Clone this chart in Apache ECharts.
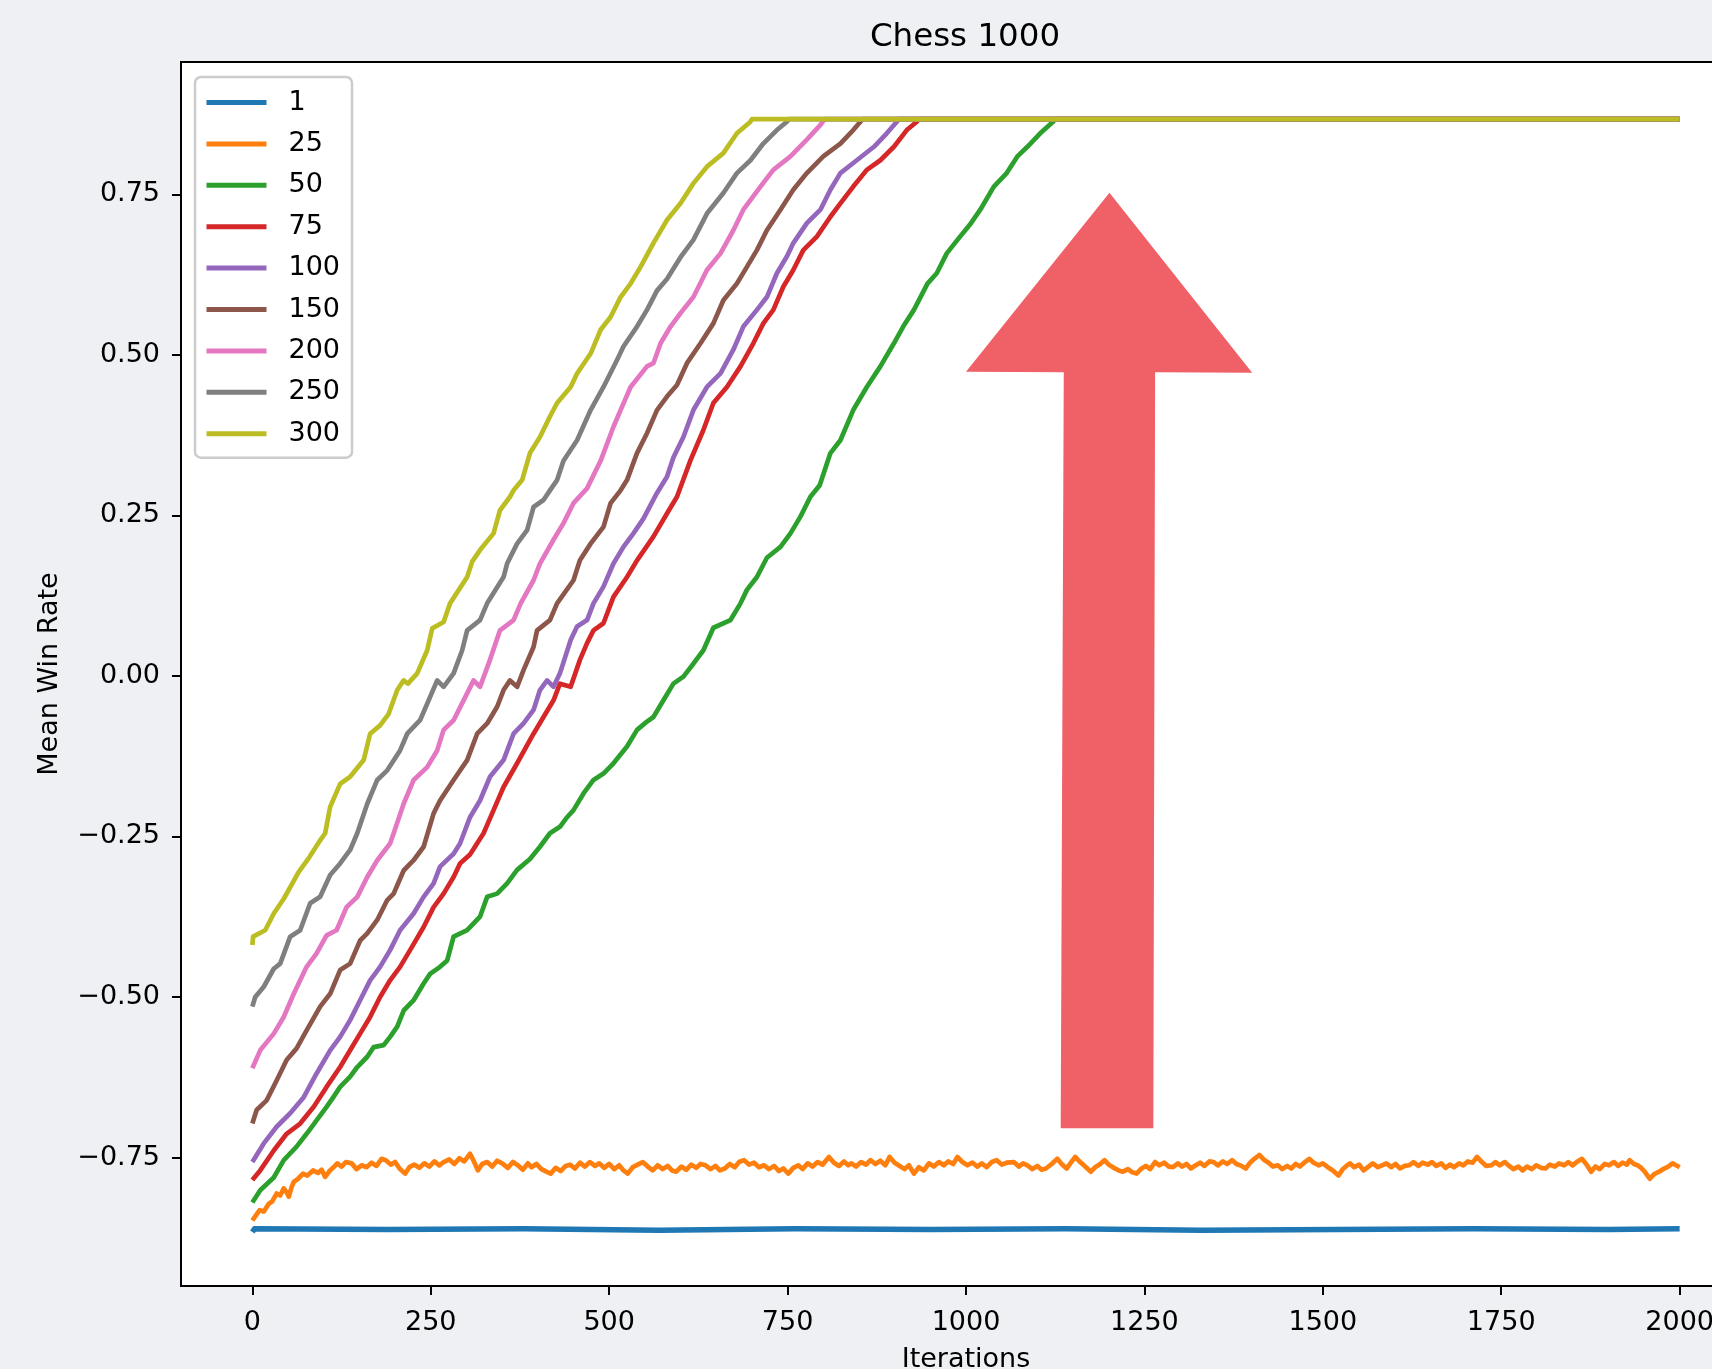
<!DOCTYPE html>
<html><head><meta charset="utf-8">
<script src="https://cdn.jsdelivr.net/npm/echarts@6/dist/echarts.min.js"></script>
<style>html,body{margin:0;padding:0;background:#eff0f4;overflow:hidden}#chart{width:1712px;height:1369px}</style>
</head><body><div id="chart"></div>
<script>
const titleText = 'Chess 1000';
const seriesNames = ['1','25','50','75','100','150','200','250','300'];
const seriesColors = ['#1f77b4','#ff7f0e','#2ca02c','#d62728','#9467bd','#8c564b','#e377c2','#7f7f7f','#bcbd22'];
const iterTicks = [0,250,500,750,1000,1250,1500,1750,2000];
const rateTicks = [-0.75,-0.5,-0.25,0,0.25,0.5,0.75];

const run1 = [[0,-0.866],[3,-0.861],[190,-0.862],[380,-0.861],[570,-0.863],[760,-0.861],[950,-0.862],[1140,-0.861],[1330,-0.863],[1520,-0.862],[1710,-0.861],[1900,-0.862],[2000,-0.861]];
const run25 = [[0,-0.848],[5,-0.840],[10,-0.832],[16,-0.834],[23,-0.822],[28,-0.818],[34,-0.806],[39,-0.809],[44,-0.798],[48,-0.804],[51,-0.811],[55,-0.796],[58,-0.788],[64,-0.783],[71,-0.775],[77,-0.778],[85,-0.770],[92,-0.774],[97,-0.769],[102,-0.780],[108,-0.771],[113,-0.766],[119,-0.759],[125,-0.764],[131,-0.757],[139,-0.759],[146,-0.768],[153,-0.762],[160,-0.765],[167,-0.758],[174,-0.763],[181,-0.752],[187,-0.754],[194,-0.761],[200,-0.757],[207,-0.768],[214,-0.775],[220,-0.765],[227,-0.761],[234,-0.766],[241,-0.759],[248,-0.764],[255,-0.756],[262,-0.762],[268,-0.757],[276,-0.753],[283,-0.760],[290,-0.751],[297,-0.756],[305,-0.744],[310,-0.755],[316,-0.770],[322,-0.760],[329,-0.757],[336,-0.764],[343,-0.755],[350,-0.759],[358,-0.766],[365,-0.757],[372,-0.762],[379,-0.769],[386,-0.759],[391,-0.765],[398,-0.760],[405,-0.768],[412,-0.772],[418,-0.775],[425,-0.766],[432,-0.771],[439,-0.763],[445,-0.761],[452,-0.767],[459,-0.758],[466,-0.764],[473,-0.757],[480,-0.763],[486,-0.759],[493,-0.766],[500,-0.760],[507,-0.768],[514,-0.762],[520,-0.770],[526,-0.775],[533,-0.765],[540,-0.761],[547,-0.757],[554,-0.764],[561,-0.770],[568,-0.762],[575,-0.768],[582,-0.763],[588,-0.770],[594,-0.772],[601,-0.764],[608,-0.769],[615,-0.761],[622,-0.766],[628,-0.760],[635,-0.762],[642,-0.768],[649,-0.763],[655,-0.770],[662,-0.767],[669,-0.760],[676,-0.765],[682,-0.757],[689,-0.754],[696,-0.761],[703,-0.758],[710,-0.765],[717,-0.762],[724,-0.768],[731,-0.763],[738,-0.771],[744,-0.767],[751,-0.775],[758,-0.766],[765,-0.762],[771,-0.768],[778,-0.759],[785,-0.764],[792,-0.757],[799,-0.761],[808,-0.749],[815,-0.758],[822,-0.763],[829,-0.756],[835,-0.762],[839,-0.759],[846,-0.764],[853,-0.757],[860,-0.761],[866,-0.754],[873,-0.760],[880,-0.755],[887,-0.762],[893,-0.749],[900,-0.758],[907,-0.763],[914,-0.768],[920,-0.762],[927,-0.775],[934,-0.765],[941,-0.770],[948,-0.759],[955,-0.764],[962,-0.757],[969,-0.762],[975,-0.756],[982,-0.760],[988,-0.749],[995,-0.757],[1002,-0.762],[1009,-0.758],[1016,-0.764],[1022,-0.759],[1029,-0.765],[1036,-0.757],[1043,-0.754],[1050,-0.761],[1057,-0.758],[1067,-0.757],[1074,-0.764],[1080,-0.759],[1086,-0.762],[1093,-0.768],[1100,-0.763],[1106,-0.769],[1112,-0.767],[1120,-0.760],[1128,-0.752],[1134,-0.760],[1141,-0.767],[1147,-0.758],[1153,-0.749],[1160,-0.757],[1167,-0.764],[1175,-0.772],[1181,-0.765],[1188,-0.760],[1194,-0.754],[1200,-0.761],[1207,-0.766],[1214,-0.770],[1220,-0.772],[1227,-0.768],[1233,-0.773],[1239,-0.775],[1246,-0.767],[1252,-0.763],[1258,-0.768],[1265,-0.757],[1271,-0.762],[1278,-0.758],[1284,-0.764],[1290,-0.765],[1297,-0.759],[1303,-0.764],[1309,-0.760],[1315,-0.767],[1322,-0.762],[1328,-0.758],[1334,-0.763],[1341,-0.756],[1347,-0.757],[1353,-0.762],[1360,-0.756],[1366,-0.760],[1373,-0.754],[1379,-0.760],[1386,-0.763],[1392,-0.767],[1398,-0.758],[1404,-0.752],[1411,-0.746],[1417,-0.753],[1424,-0.758],[1430,-0.764],[1437,-0.762],[1443,-0.768],[1450,-0.763],[1456,-0.767],[1462,-0.760],[1468,-0.764],[1475,-0.757],[1481,-0.752],[1487,-0.758],[1494,-0.762],[1500,-0.759],[1507,-0.765],[1514,-0.770],[1522,-0.778],[1528,-0.768],[1533,-0.763],[1538,-0.759],[1544,-0.765],[1551,-0.761],[1557,-0.770],[1564,-0.764],[1570,-0.759],[1577,-0.765],[1583,-0.762],[1589,-0.759],[1596,-0.765],[1602,-0.760],[1608,-0.767],[1615,-0.763],[1621,-0.762],[1627,-0.757],[1634,-0.763],[1640,-0.758],[1647,-0.761],[1653,-0.757],[1659,-0.763],[1666,-0.759],[1672,-0.766],[1678,-0.761],[1684,-0.765],[1691,-0.759],[1697,-0.762],[1703,-0.756],[1710,-0.758],[1716,-0.749],[1723,-0.757],[1729,-0.763],[1736,-0.762],[1742,-0.757],[1748,-0.762],[1755,-0.757],[1761,-0.763],[1767,-0.768],[1774,-0.764],[1780,-0.770],[1786,-0.764],[1793,-0.768],[1799,-0.762],[1806,-0.766],[1812,-0.767],[1818,-0.761],[1825,-0.764],[1831,-0.759],[1838,-0.762],[1844,-0.757],[1850,-0.762],[1857,-0.756],[1863,-0.752],[1869,-0.760],[1876,-0.772],[1882,-0.764],[1888,-0.768],[1895,-0.760],[1901,-0.762],[1908,-0.757],[1914,-0.763],[1920,-0.758],[1926,-0.761],[1930,-0.754],[1936,-0.760],[1941,-0.762],[1945,-0.765],[1951,-0.772],[1958,-0.783],[1964,-0.776],[1971,-0.772],[1977,-0.768],[1984,-0.764],[1990,-0.759],[1995,-0.762],[2000,-0.765]];
const run50 = [[0,-0.820],[11,-0.801],[30,-0.781],[44,-0.754],[62,-0.733],[76,-0.713],[90,-0.692],[104,-0.671],[114,-0.655],[123,-0.640],[137,-0.624],[147,-0.609],[161,-0.593],[170,-0.578],[184,-0.575],[193,-0.562],[203,-0.546],[212,-0.521],[226,-0.505],[240,-0.479],[249,-0.464],[263,-0.453],[273,-0.443],[282,-0.406],[301,-0.396],[319,-0.375],[329,-0.344],[343,-0.339],[357,-0.323],[371,-0.302],[389,-0.285],[403,-0.266],[417,-0.245],[431,-0.235],[441,-0.220],[450,-0.209],[464,-0.183],[478,-0.162],[492,-0.152],[506,-0.136],[525,-0.110],[539,-0.084],[552,-0.072],[562,-0.064],[576,-0.038],[590,-0.012],[604,-0.001],[618,0.019],[632,0.040],[646,0.075],[670,0.087],[684,0.113],[693,0.134],[707,0.154],[721,0.184],[740,0.201],[754,0.222],[768,0.248],[782,0.279],[795,0.297],[810,0.347],[824,0.367],[842,0.414],[861,0.450],[880,0.482],[899,0.518],[912,0.544],[927,0.570],[946,0.611],[959,0.627],[973,0.658],[988,0.679],[1007,0.705],[1020,0.726],[1039,0.762],[1057,0.783],[1072,0.809],[1086,0.824],[1104,0.845],[1122,0.863],[1125,0.867],[2000,0.867]];
const run75 = [[0,-0.785],[11,-0.770],[30,-0.739],[48,-0.713],[67,-0.697],[86,-0.671],[104,-0.640],[123,-0.609],[137,-0.583],[151,-0.557],[165,-0.531],[179,-0.500],[193,-0.474],[207,-0.453],[221,-0.427],[240,-0.391],[254,-0.360],[268,-0.339],[282,-0.313],[291,-0.292],[305,-0.278],[324,-0.245],[338,-0.209],[352,-0.173],[371,-0.136],[394,-0.090],[408,-0.064],[422,-0.038],[431,-0.012],[446,-0.017],[459,0.025],[469,0.051],[478,0.071],[492,0.082],[506,0.123],[525,0.154],[539,0.180],[562,0.217],[581,0.253],[595,0.279],[614,0.336],[632,0.383],[646,0.425],[665,0.450],[684,0.482],[702,0.518],[716,0.549],[730,0.570],[744,0.606],[758,0.632],[772,0.663],[791,0.684],[810,0.715],[824,0.736],[842,0.762],[861,0.788],[880,0.803],[899,0.824],[917,0.850],[931,0.863],[934,0.867],[2000,0.867]];
const run100 = [[0,-0.757],[16,-0.728],[34,-0.702],[53,-0.681],[72,-0.656],[90,-0.619],[109,-0.583],[123,-0.562],[137,-0.536],[151,-0.505],[165,-0.474],[179,-0.453],[193,-0.427],[207,-0.396],[226,-0.370],[240,-0.344],[254,-0.323],[263,-0.297],[282,-0.277],[291,-0.261],[305,-0.220],[319,-0.194],[333,-0.157],[352,-0.131],[366,-0.090],[380,-0.074],[394,-0.053],[403,-0.022],[413,-0.007],[422,-0.017],[431,0.004],[446,0.056],[455,0.077],[469,0.087],[478,0.113],[492,0.139],[506,0.175],[520,0.201],[534,0.222],[548,0.245],[567,0.285],[581,0.310],[590,0.340],[604,0.372],[618,0.414],[637,0.450],[656,0.471],[674,0.508],[688,0.544],[707,0.570],[721,0.590],[735,0.627],[749,0.653],[758,0.674],[777,0.705],[796,0.726],[810,0.757],[824,0.783],[847,0.803],[871,0.824],[889,0.845],[903,0.863],[906,0.867],[2000,0.867]];
const run150 = [[0,-0.697],[6,-0.676],[20,-0.661],[34,-0.630],[48,-0.598],[62,-0.580],[76,-0.552],[95,-0.515],[109,-0.495],[123,-0.458],[137,-0.448],[151,-0.412],[161,-0.401],[175,-0.380],[189,-0.349],[198,-0.339],[212,-0.303],[226,-0.287],[240,-0.266],[254,-0.214],[263,-0.194],[282,-0.162],[301,-0.131],[315,-0.090],[329,-0.074],[343,-0.048],[352,-0.022],[361,-0.007],[371,-0.017],[380,0.009],[394,0.045],[399,0.071],[417,0.087],[427,0.113],[450,0.149],[459,0.180],[474,0.206],[492,0.232],[502,0.269],[516,0.289],[525,0.305],[539,0.347],[553,0.378],[567,0.414],[581,0.435],[595,0.453],[609,0.487],[628,0.518],[646,0.549],[660,0.585],[679,0.611],[693,0.637],[707,0.663],[721,0.694],[740,0.726],[758,0.757],[777,0.783],[800,0.809],[824,0.829],[842,0.850],[852,0.863],[855,0.867],[2000,0.867]];
const run200 = [[0,-0.611],[11,-0.583],[30,-0.557],[44,-0.531],[58,-0.495],[76,-0.453],[90,-0.432],[104,-0.404],[118,-0.396],[132,-0.360],[147,-0.344],[161,-0.313],[175,-0.287],[193,-0.261],[198,-0.245],[212,-0.199],[226,-0.162],[245,-0.142],[259,-0.116],[268,-0.084],[282,-0.069],[296,-0.038],[310,-0.007],[319,-0.017],[333,0.025],[347,0.071],[366,0.087],[376,0.113],[394,0.149],[403,0.175],[422,0.212],[436,0.238],[450,0.269],[469,0.292],[488,0.335],[506,0.388],[516,0.414],[530,0.450],[553,0.482],[562,0.487],[572,0.518],[586,0.544],[600,0.565],[618,0.590],[637,0.632],[656,0.658],[674,0.694],[688,0.726],[712,0.762],[730,0.788],[754,0.809],[777,0.835],[796,0.858],[802,0.867],[2000,0.867]];
const run250 = [[0,-0.515],[4,-0.500],[16,-0.484],[30,-0.456],[39,-0.448],[53,-0.406],[67,-0.396],[81,-0.354],[95,-0.344],[109,-0.310],[123,-0.292],[137,-0.271],[147,-0.245],[161,-0.199],[175,-0.162],[189,-0.147],[207,-0.116],[217,-0.090],[235,-0.069],[247,-0.038],[259,-0.007],[268,-0.017],[282,0.004],[294,0.040],[301,0.071],[319,0.087],[329,0.113],[352,0.154],[357,0.175],[371,0.206],[385,0.227],[394,0.263],[408,0.274],[417,0.289],[427,0.305],[436,0.335],[455,0.367],[474,0.414],[492,0.450],[511,0.492],[520,0.513],[539,0.544],[553,0.570],[567,0.600],[581,0.618],[600,0.652],[618,0.679],[637,0.720],[660,0.752],[679,0.783],[698,0.803],[716,0.829],[735,0.850],[749,0.863],[752,0.867],[2000,0.867]];
const run300 = [[0,-0.419],[1,-0.406],[18,-0.396],[30,-0.370],[44,-0.347],[65,-0.305],[80,-0.282],[95,-0.256],[102,-0.245],[109,-0.204],[123,-0.168],[137,-0.157],[156,-0.131],[165,-0.090],[179,-0.077],[191,-0.059],[203,-0.022],[212,-0.007],[218,-0.012],[231,0.004],[245,0.040],[252,0.074],[268,0.084],[277,0.113],[301,0.154],[308,0.178],[319,0.196],[338,0.222],[347,0.258],[361,0.279],[366,0.289],[378,0.305],[389,0.347],[403,0.372],[417,0.404],[427,0.425],[446,0.450],[455,0.471],[474,0.502],[488,0.539],[502,0.559],[516,0.590],[530,0.611],[544,0.637],[562,0.674],[581,0.710],[600,0.736],[618,0.767],[637,0.793],[660,0.814],[679,0.845],[698,0.863],[700,0.867],[2000,0.867]];
const seriesData = [run1, run25, run50, run75, run100, run150, run200, run250, run300];

// annotation arrow outline, in data coordinates (iteration, win rate)
const arrowX = [1201, 1401, 1265, 1262.5, 1132.7, 1137, 1000];
const arrowY = [0.7525, 0.472, 0.473, -0.7044, -0.7044, 0.473, 0.4737];
const arrowColor = '#ef6067';

const FONT = 'DejaVu Sans';
const fmtRate = v => (v < 0 ? '\u2212' : '') + Math.abs(v).toFixed(2);

const chart = echarts.init(document.getElementById('chart'), null, {renderer: 'canvas'});
const series = seriesNames.map((n, i) => ({
  name: n, type: 'line', data: seriesData[i], showSymbol: false, symbol: 'none',
  lineStyle: {color: seriesColors[i], width: i === 0 ? 5.5 : 4.7, join: 'round'},
  itemStyle: {color: seriesColors[i]}, emphasis: {disabled: true}, animation: false
}));
series.push({
  name: 'arrow', type: 'custom', silent: true, animation: false, z: 1,
  data: [[arrowX[0], arrowY[0]]],
  renderItem: (params, api) => ({
    type: 'polygon',
    shape: {points: arrowX.map((x, i) => api.coord([x, arrowY[i]]))},
    style: {fill: arrowColor}
  })
});

chart.setOption({
  animation: false,
  backgroundColor: '#eff0f4',
  textStyle: {fontFamily: FONT},
  title: {
    text: titleText, left: 965, top: 21.5, textAlign: 'center', padding: 0,
    textStyle: {fontFamily: FONT, fontSize: 32.5, fontWeight: 'normal', color: '#000'}
  },
  grid: {
    left: 181, right: -39, top: 62, bottom: 83, show: true, outerBoundsMode: 'none',
    backgroundColor: '#ffffff', borderColor: '#000', borderWidth: 2, containLabel: false
  },
  legend: {
    data: seriesNames, orient: 'vertical', left: 195, top: 77,
    padding: [11.5, 12, 10, 9], itemWidth: 60, itemHeight: 28, itemGap: 13.4,
    backgroundColor: 'rgba(255,255,255,0.8)', borderColor: '#cccccc', borderWidth: 2.5, borderRadius: 6,
    itemStyle: {opacity: 0}, lineStyle: {width: 5},
    textStyle: {fontFamily: FONT, fontSize: 27, color: '#000', padding: [0, 0, 0, 17], lineHeight: 28},
    selectedMode: false
  },
  xAxis: {
    type: 'value', min: -100, max: 2100,
    name: 'Iterations', nameLocation: 'middle', nameGap: 60,
    nameTextStyle: {fontFamily: FONT, fontSize: 27, color: '#000'},
    axisLine: {show: false, onZero: false},
    axisTick: {show: true, length: 9, lineStyle: {color: '#000', width: 2}, customValues: iterTicks},
    axisLabel: {customValues: iterTicks, formatter: v => String(v), fontFamily: FONT, fontSize: 27, color: '#000', margin: 23},
    splitLine: {show: false}
  },
  yAxis: {
    type: 'value', min: -0.950, max: 0.956,
    name: 'Mean Win Rate', nameLocation: 'middle', nameGap: 118,
    nameTextStyle: {fontFamily: FONT, fontSize: 27, color: '#000'},
    axisLine: {show: false, onZero: false},
    axisTick: {show: true, length: 9, lineStyle: {color: '#000', width: 2}, customValues: rateTicks},
    axisLabel: {customValues: rateTicks, formatter: fmtRate, fontFamily: FONT, fontSize: 27, color: '#000', margin: 21, padding: [10, 0, 0, 0]},
    splitLine: {show: false}
  },
  series: series
});
</script></body></html>
